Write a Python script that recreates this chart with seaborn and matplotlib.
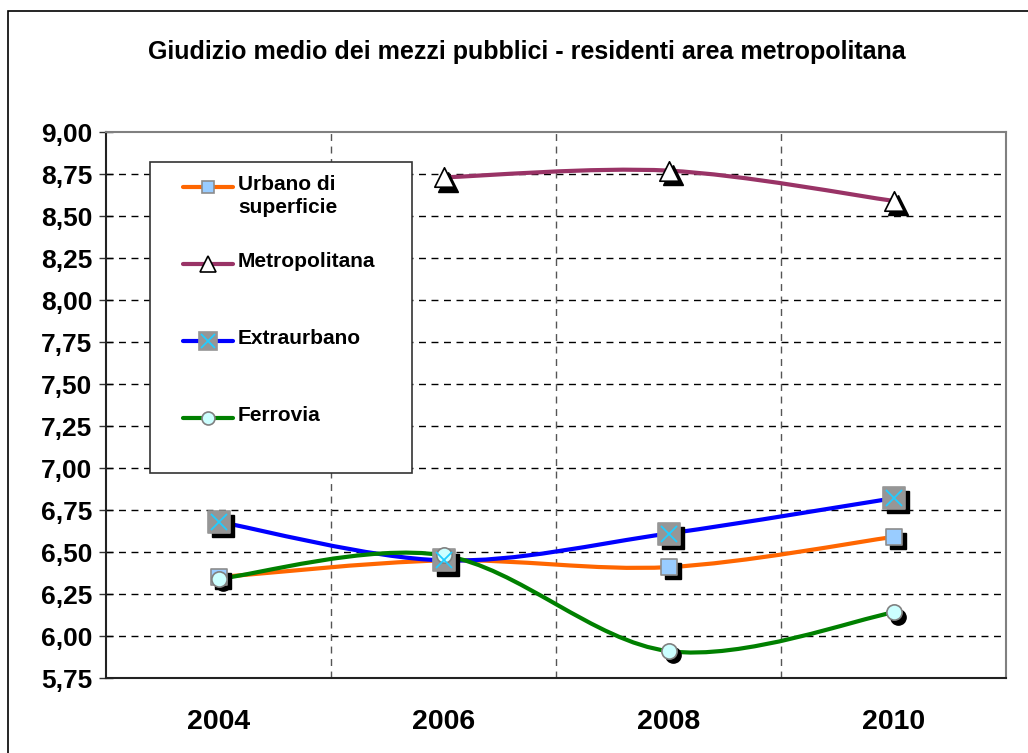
"""
Giudizio medio dei mezzi pubblici - residenti area metropolitana.
"""
import numpy as np
import pandas as pd
import seaborn as sns
import matplotlib.pyplot as plt
from matplotlib.path import Path
from matplotlib.patches import PathPatch, Rectangle
from matplotlib.lines import Line2D
from matplotlib.transforms import ScaledTranslation

# data
years = ["2004", "2006", "2008", "2010"]
urbano = [6.35, 6.45, 6.41, 6.59]
metropolitana = [np.nan, 8.73, 8.77, 8.59]
extraurbano = [6.68, 6.45, 6.61, 6.82]
ferrovia = [6.34, 6.48, 5.91, 6.14]
y_ticks = [5.75, 6.00, 6.25, 6.50, 6.75, 7.00, 7.25, 7.50, 7.75, 8.00, 8.25, 8.50, 8.75, 9.00]

series = {
    "Urbano di\nsuperficie": urbano,
    "Metropolitana": metropolitana,
    "Extraurbano": extraurbano,
    "Ferrovia": ferrovia,
}
styles = {
    "Urbano di\nsuperficie": dict(color="#FF6600", marker="s", ms=11, mfc="#99CCFF", mec="#8C8C8C"),
    "Metropolitana": dict(color="#993366", marker="^", ms=14, mfc="white", mec="black"),
    "Extraurbano": dict(color="#0000FF", marker="s", ms=16, mfc="#969696", mec="#969696"),
    "Ferrovia": dict(color="#008000", marker="o", ms=11, mfc="#CCFFFF", mec="#808080"),
}

sns.set_theme(style="white")
plt.rcParams["font.family"] = ["Liberation Sans", "DejaVu Sans"]
plt.rcParams["font.weight"] = "bold"
plt.rcParams["text.color"] = "black"
plt.rcParams["xtick.color"] = "black"
plt.rcParams["ytick.color"] = "black"

fig = plt.figure(figsize=(10.28, 7.53), dpi=100)
ax = fig.add_axes([106 / 1028, 1 - 678 / 753, 900 / 1028, 546 / 753])

df = pd.DataFrame(series, index=years)
long = df.reset_index(names="year").melt(id_vars="year", var_name="serie", value_name="giudizio")
long["pos"] = long["year"].map({y: i for i, y in enumerate(years)})


def smooth_path(xs, ys):
    # Excel-like smoothed line: cubic Bezier segments through the points
    pts = np.column_stack([xs, ys])
    pts = pts[~np.isnan(pts[:, 1])]
    verts = [tuple(pts[0])]
    codes = [Path.MOVETO]
    n = len(pts)
    for i in range(n - 1):
        p0 = pts[max(i - 1, 0)]
        p1, p2 = pts[i], pts[i + 1]
        p3 = pts[min(i + 2, n - 1)]
        c1 = p1 + (p2 - p0) / 6
        c2 = p2 - (p3 - p1) / 6
        verts += [tuple(c1), tuple(c2), tuple(p2)]
        codes += [Path.CURVE4] * 3
    return Path(verts, codes)


shadow = ax.transData + ScaledTranslation(3 / 72, -3 / 72, fig.dpi_scale_trans)

for name, grp in long.groupby("serie", sort=False):
    st = styles[name]
    ax.add_patch(PathPatch(smooth_path(grp["pos"].values, grp["giudizio"].values),
                           fill=False, ec=st["color"], lw=3, zorder=3, capstyle="round"))
    ax.plot(grp["pos"], grp["giudizio"], ls="none", marker=st["marker"], ms=st["ms"],
            mfc="black", mec="black", transform=shadow, zorder=4)
    sns.scatterplot(data=grp, x="pos", y="giudizio", ax=ax, marker=st["marker"],
                    s=st["ms"] ** 2, color=st["mfc"], edgecolor=st["mec"], linewidth=1.2,
                    zorder=5, legend=False)
    if name == "Extraurbano":
        ax.plot(grp["pos"], grp["giudizio"], ls="none", marker="x", ms=12,
                mec="#22CCFF", mew=1.3, zorder=6)

# axes
ax.set_xlim(-0.5, len(years) - 0.5)
ax.set_ylim(5.75, 9.0)
ax.set_xticks(range(len(years)))
ax.set_xticklabels(years, fontsize=20.5, fontweight="bold")
ax.set_xticks(np.arange(-0.5, len(years)), minor=True)
ax.set_yticks(y_ticks)
ax.set_yticklabels([f"{v:.2f}".replace(".", ",") for v in y_ticks], fontsize=19, fontweight="bold")
ax.tick_params(axis="x", which="major", length=0, pad=22)
ax.tick_params(axis="x", which="minor", direction="inout", length=10, width=1, color="#333333")
ax.tick_params(axis="y", direction="inout", length=10, width=1, color="#333333", left=True, pad=5)
ax.set_xlabel("")
ax.set_ylabel("")
ax.grid(False)
for v in y_ticks[1:-1]:
    ax.axhline(v, color="black", lw=1, ls=(0, (5, 4)), zorder=1)
for v in np.arange(0.5, len(years) - 1):
    ax.axvline(v, color="#555555", lw=1, ls=(0, (5, 4)), zorder=1)
for side in ["top", "right"]:
    ax.spines[side].set_color("#808080")
    ax.spines[side].set_linewidth(1.5)
for side in ["left", "bottom"]:
    ax.spines[side].set_color("#222222")
    ax.spines[side].set_linewidth(1.5)

# legend, drawn as in the original Excel box
ax.add_patch(Rectangle((0.049, 0.375), 0.291, 0.570, transform=ax.transAxes,
                       fill=True, fc="white", ec="#333333", lw=1.2, zorder=7))
for i, name in enumerate(series):
    st = styles[name]
    y = 0.899 - i * 0.141
    ax.add_line(Line2D([0.0856, 0.141], [y, y], transform=ax.transAxes, color=st["color"],
                       lw=3, solid_capstyle="round", zorder=8))
    ax.add_line(Line2D([0.113], [y], transform=ax.transAxes, ls="none", marker=st["marker"],
                       ms=st["ms"] * 0.85, mfc=st["mfc"], mec=st["mec"], mew=1.2, zorder=9))
    if name == "Extraurbano":
        ax.add_line(Line2D([0.113], [y], transform=ax.transAxes, ls="none", marker="x",
                           ms=10, mec="#22CCFF", mew=1.3, zorder=10))
    ax.text(0.1467, y + 0.023, name, transform=ax.transAxes, fontsize=15, fontweight="bold",
            va="top", ha="left", linespacing=1.3, zorder=10)

fig.text(527 / 1028, 1 - 52 / 753, "Giudizio medio dei mezzi pubblici - residenti area metropolitana",
         fontsize=18, fontweight="bold", ha="center", va="center")

# outer chart border
fig.patches.append(Rectangle((8 / 1028, -0.1), 1.2, 1 - 11 / 753 + 0.1, transform=fig.transFigure,
                             fill=False, ec="black", lw=1.2))

fig.savefig("out.png", dpi=100)
